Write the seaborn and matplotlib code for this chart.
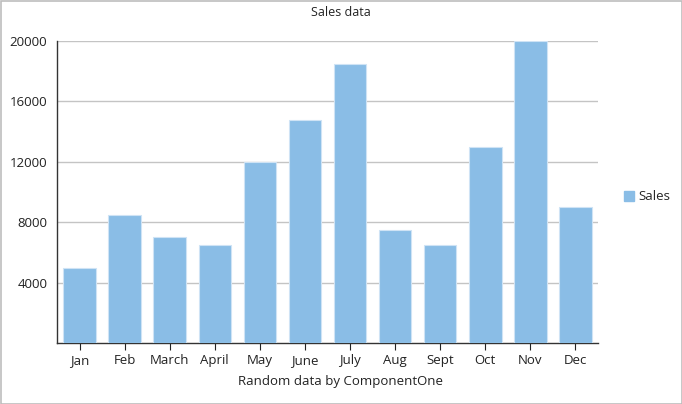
import matplotlib
matplotlib.use("Agg")
import matplotlib.pyplot as plt
import seaborn as sns
import pandas as pd
from matplotlib.patches import Rectangle, Patch

months = ["Jan", "Feb", "March", "April", "May", "June", "July", "Aug", "Sept", "Oct", "Nov", "Dec"]
sales = [5000, 8500, 7000, 6500, 12000, 14800, 18500, 7500, 6500, 13000, 20000, 9000]
yticks = [4000, 8000, 12000, 16000, 20000]

sns.set_theme(style="white")
plt.rcParams['font.family'] = ['Open Sans', 'DejaVu Sans']

df = pd.DataFrame({"Month": months, "Sales": sales})

fig = plt.figure(figsize=(6.82, 4.04), dpi=100)
ax = fig.add_axes([57/682, 1-343/404, (598-57)/682, (343-41)/404])

sns.barplot(data=df, x="Month", y="Sales", color="#8abde6", saturation=1,
            width=0.72, edgecolor="#cfe3f5", linewidth=0.8, ax=ax, zorder=3)

ax.set_ylim(0, 20000)
ax.set_xlim(-0.5, 11.5)
ax.set_yticks(yticks)
ax.set_yticklabels([str(v) for v in yticks], fontsize=9.5, color="#222222")
ax.tick_params(axis='x', labelsize=9.5, colors="#222222", direction='out', length=5,
               width=0.8, bottom=True, pad=3)
ax.tick_params(axis='y', length=0, pad=7)
ax.yaxis.grid(True, color="#c4c4c4", linewidth=1, zorder=0)
ax.set_axisbelow(True)
for s in ["top", "right"]:
    ax.spines[s].set_visible(False)
ax.spines["left"].set_color("#333333")
ax.spines["bottom"].set_color("#333333")
ax.spines["left"].set_linewidth(1)
ax.spines["bottom"].set_linewidth(1)
ax.set_xlabel("")
ax.set_ylabel("")

fig.text(0.5, 1-13/404, "Sales data", ha="center", va="center", fontsize=9, color="#222222")
fig.text(0.5, 1-382/404, "Random data by ComponentOne", ha="center", va="center", fontsize=9.5, color="#222222")

handle = Patch(facecolor="#8abde6", edgecolor="#8abde6")
fig.legend([handle], ["Sales"], loc="center left", bbox_to_anchor=(612/682, 1-197/404),
           frameon=False, fontsize=9.5, handlelength=0.8, handleheight=0.8, handletextpad=0.3)

fig.patches.append(Rectangle((0.5/682, 0.5/404), 1-1/682, 1-1/404, transform=fig.transFigure,
                             fill=False, edgecolor="#bdbdbd", linewidth=1.2))

fig.savefig("out.png", dpi=100)
